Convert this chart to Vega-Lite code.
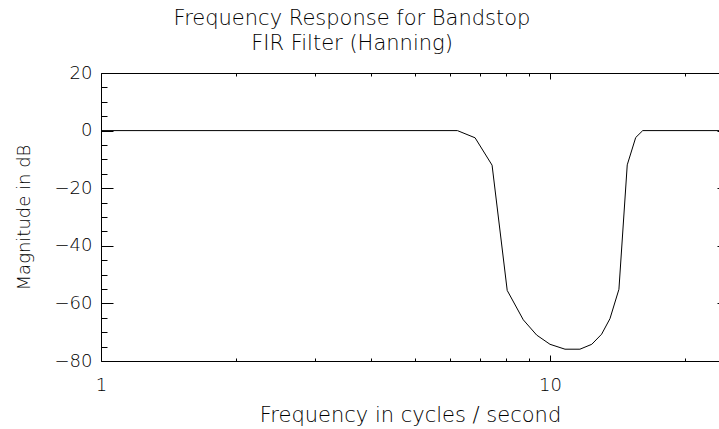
{
  "$schema": "https://vega.github.io/schema/vega-lite/v6.json",
  "width": 618,
  "height": 288,
  "autosize": {"type": "none"},
  "padding": {"left": 101, "top": 73, "right": 0, "bottom": 68},
  "background": "white",
  "config": {
    "view": {"stroke": null},
    "font": "DejaVu Sans",
    "axis": {
      "grid": false,
      "domainColor": "#000000",
      "tickColor": "#000000",
      "labelColor": "#000000",
      "titleColor": "#000000",
      "labelFont": "DejaVu Sans",
      "titleFont": "DejaVu Sans",
      "labelFontWeight": 200,
      "titleFontWeight": 200,
      "labelFlush": false,
      "labelOverlap": false,
      "domainWidth": 1,
      "tickWidth": 1
    }
  },
  "title": {
    "text": ["Frequency Response for Bandstop", "FIR Filter (Hanning)"],
    "font": "DejaVu Sans",
    "fontSize": 21,
    "fontWeight": 200,
    "color": "#000000",
    "lineHeight": 25,
    "anchor": "middle",
    "dx": -58,
    "offset": 10
  },
  "data": {
    "values": [
      {"freq": 1, "db": 0},
      {"freq": 6.22, "db": 0},
      {"freq": 6.81, "db": -2.5},
      {"freq": 7.43, "db": -12},
      {"freq": 8.03, "db": -55.5},
      {"freq": 8.72, "db": -65.7},
      {"freq": 9.34, "db": -71},
      {"freq": 10.0, "db": -74.2},
      {"freq": 10.8, "db": -75.9},
      {"freq": 11.66, "db": -75.9},
      {"freq": 12.39, "db": -74.2},
      {"freq": 13.03, "db": -70.7},
      {"freq": 13.6, "db": -65.3},
      {"freq": 14.24, "db": -55.1},
      {"freq": 14.86, "db": -11.9},
      {"freq": 15.52, "db": -2.4},
      {"freq": 16.09, "db": 0},
      {"freq": 25, "db": 0}
    ]
  },
  "layer": [
    {
      "mark": {"type": "line", "color": "#000000", "strokeWidth": 1, "clip": true},
      "encoding": {
        "x": {
          "field": "freq", "type": "quantitative",
          "scale": {"type": "log", "domain": [1, 23.79], "nice": false},
          "axis": {"orient": "bottom", "values": [1, 10], "format": "d", "ticks": false, "labelPadding": 15, "labelFontSize": 18, "title": "Frequency in cycles / second", "titleFontSize": 21, "titlePadding": 10, "domain": true}
        },
        "y": {
          "field": "db", "type": "quantitative",
          "scale": {"domain": [-80, 20], "nice": false, "zero": false},
          "axis": {"orient": "left", "values": [-80, -60, -40, -20, 0, 20], "ticks": false, "labelPadding": 9, "labelFontSize": 18, "title": "Magnitude in dB", "titleFontSize": 18, "titlePadding": 21, "domain": true}
        }
      }
    },
    {
      "mark": {"type": "line", "opacity": 0, "clip": true},
      "encoding": {
        "x": {
          "field": "freq", "type": "quantitative",
          "axis": {"orient": "top", "offset": -288, "values": [1, 10], "tickSize": 6, "labels": false, "domain": false, "title": null}
        },
        "y": {
          "field": "db", "type": "quantitative",
          "axis": {"orient": "right", "offset": -618, "values": [-80, -60, -40, -20, 0, 20], "tickSize": 12, "labels": false, "domain": false, "title": null}
        }
      }
    },
    {
      "mark": {"type": "line", "opacity": 0, "clip": true},
      "encoding": {
        "x": {
          "field": "freq", "type": "quantitative",
          "axis": {"orient": "top", "offset": -288, "values": [2, 3, 4, 5, 6, 7, 8, 9, 20], "tickSize": 3, "labels": false, "domain": false, "title": null}
        },
        "y": {
          "field": "db", "type": "quantitative",
          "axis": {"orient": "right", "offset": -618, "values": [-75, -70, -65, -55, -50, -45, -35, -30, -25, -15, -10, -5, 5, 10, 15], "tickSize": 6, "labels": false, "domain": false, "title": null}
        }
      }
    },
    {
      "mark": {"type": "line", "opacity": 0, "clip": true},
      "encoding": {
        "x": {
          "field": "freq", "type": "quantitative",
          "axis": {"orient": "bottom", "offset": -288, "values": [1, 10], "tickSize": 6, "labels": false, "domain": true, "title": null}
        },
        "y": {
          "field": "db", "type": "quantitative",
          "axis": {"orient": "left", "offset": -628, "values": [-80, -60, -40, -20, 0, 20], "tickSize": 12, "labels": false, "domain": true, "title": null}
        }
      }
    },
    {
      "mark": {"type": "line", "opacity": 0, "clip": true},
      "encoding": {
        "x": {
          "field": "freq", "type": "quantitative",
          "axis": {"orient": "bottom", "offset": -288, "values": [2, 3, 4, 5, 6, 7, 8, 9, 20], "tickSize": 3, "labels": false, "domain": false, "title": null}
        },
        "y": {
          "field": "db", "type": "quantitative",
          "axis": null
        }
      }
    }
  ],
  "resolve": {"axis": {"x": "independent", "y": "independent"}}
}
